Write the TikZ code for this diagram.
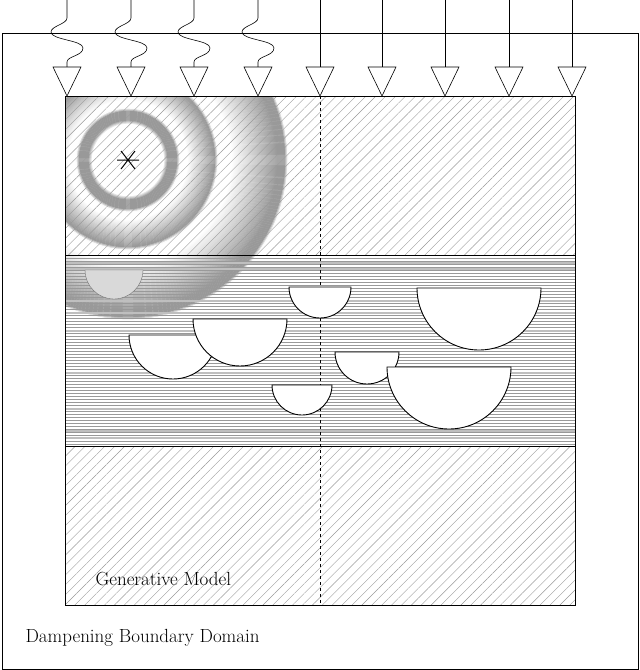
\documentclass[tikz,border=0pt]{standalone}
\usetikzlibrary{patterns,patterns.meta}
\tikzset{
  wall/.style={line width=0.9pt},
  tri/.style={draw, fill=white, line width=0.6pt},
  bowl/.style={draw, fill=white, line width=0.9pt},
  hatch/.style={pattern={Lines[angle=45, distance=7pt, line width=0.4pt]}, pattern color=black!40},
  txt/.style={font=\fontsize{19}{23}\selectfont, anchor=west}
}
\begin{document}
\begin{tikzpicture}[x=1pt,y=-1pt]
  \useasboundingbox (0,0) rectangle (640,670);
  % outer domain
  \draw[wall] (2,33) rectangle (638,669);
  % rings, clipped to model
  \begin{scope}
    \clip (65,96) rectangle (575,605);
    \foreach \r in {36,...,52} {
      \pgfmathsetmacro\g{\r<40 ? (\r-36)*10 : (\r>49 ? 40-(\r-49)*13 : 40)}
      \draw[black!\g, line width=1.3pt] (128,160) circle (\r);
    }
    \foreach \r in {60,...,90} {
      \pgfmathsetmacro\g{\r<87 ? (\r-60)*1.5 : 40-(\r-87)*13}
      \draw[black!\g, line width=1.3pt] (128,160) circle (\r);
    }
    \foreach \r in {104,...,160} {
      \pgfmathsetmacro\g{\r<150 ? (\r-104)*0.87 : (\r<157 ? 40 : 40-(\r-157)*13)}
      \draw[black!\g, line width=1.3pt] (128,160) circle (\r);
    }
  \end{scope}
  % hatching
  \fill[hatch] (65,96) rectangle (575,255);
  \fill[hatch] (65,446) rectangle (575,605);
  \fill[pattern=horizontal lines, pattern color=black!40] (65,255) rectangle (575,446);
  \foreach \y in {262,268,300,312,330,372,408,430,437} {
    \fill[black!25] (65,\y) rectangle (575,\y+2);
  }
  % shadowed bowl
  \draw[black!55, fill=black!15] (85,270) arc[start angle=180, end angle=0, radius=29] -- cycle;
  % model layers
  \draw[wall] (65,96) rectangle (575,605);
  \draw[wall] (65,255) -- (575,255);
  \draw[wall] (65,446) -- (575,446);
  \draw[dashed, line width=0.8pt] (320,96) -- (320,605);
  % source
  \draw[line width=1pt] (128,160) +(-11,0) -- +(11,0)
    (128,160) +(-7,-9) -- +(7,9) (128,160) +(-7,9) -- +(7,-9);
  % bowls
  \draw[bowl] (129,335) arc[start angle=180, end angle=0, radius=44] -- cycle;
  \draw[bowl] (193,319) arc[start angle=180, end angle=0, radius=47] -- cycle;
  \draw[bowl] (289,287) arc[start angle=180, end angle=0, radius=31] -- cycle;
  \draw[bowl] (417,288) arc[start angle=180, end angle=0, radius=62] -- cycle;
  \draw[bowl] (335,352) arc[start angle=180, end angle=0, radius=32] -- cycle;
  \draw[bowl] (272,385) arc[start angle=180, end angle=0, radius=30] -- cycle;
  \draw[bowl] (387,367) arc[start angle=180, end angle=0, radius=62] -- cycle;
  % incoming waves
  \foreach \x in {67,131,194,258} {
    \draw[line width=0.6pt] (\x,0) -- (\x,18) .. controls (\x,24) and (\x-16,26) .. (\x-16,32)
      .. controls (\x-16,40) and (\x+16,40) .. (\x+16,48)
      .. controls (\x+16,56) and (\x,56) .. (\x,62) -- (\x,67);
  }
  \foreach \x in {320,382,445,509,572} {
    \draw[line width=0.6pt] (\x,0) -- (\x,67);
  }
  \foreach \x in {67,131,194,258,320,382,445,509,572} {
    \draw[tri] (\x-14,67) -- (\x+14,67) -- (\x,96) -- cycle;
  }
  \node[txt] (gm) at (92,579) {Generative Model};
  \node[txt] (db) at (22,638) {Dampening Boundary Domain};
\end{tikzpicture}
\end{document}
